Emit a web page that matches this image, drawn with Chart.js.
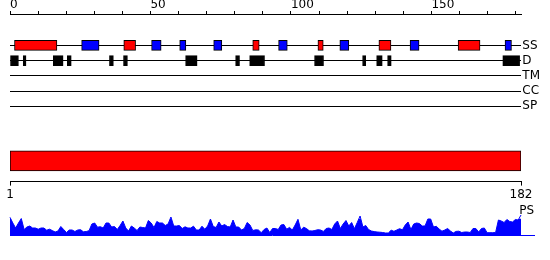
<!DOCTYPE html>
<html>
<head>
<meta charset="utf-8">
<script src="https://cdn.jsdelivr.net/npm/chart.js@4"></script>
<style>
  body { margin: 0; background: #fff; }
  canvas { position: absolute; left: 0; }
</style>
</head>
<body>
<canvas id="tracks" width="550" height="123" style="top:-1px"></canvas>
<canvas id="domain" width="550" height="64" style="top:140px"></canvas>
<canvas id="ps" width="550" height="36" style="top:204px"></canvas>
<script>
// feature tracks (top)
var tracks = ['SS', 'D', 'TM', 'CC', 'SP']
var topTicks = [0, 10, 20, 30, 40, 50, 60, 70, 80, 90, 100, 110, 120, 130, 140, 150, 160, 170, 180]
var topLabels = [0, 50, 100, 150]
var helix = [[1.6, 16.7], [40.5, 44.7], [86.4, 88.7], [109.6, 111.5], [131.3, 135.6], [159.5, 167.3]]
var strand = [[25.5, 31.7], [50.4, 53.8], [60.4, 62.6], [72.5, 75.4], [95.6, 98.7], [117.4, 120.6], [142.4, 145.6], [176.2, 178.5]]
var disorder = [[0, 3], [4.7, 5.7], [15.4, 18.9], [20.4, 21.8], [35.4, 36.8], [40.4, 41.8], [62.5, 66.6], [80.3, 81.7],
                [85.3, 90.6], [108.4, 111.6], [125.5, 126.6], [130.5, 132.5], [134.4, 135.7], [175.4, 181.4]]

// domain bar + sequence axis
var seqStart = 1
var seqEnd = 182
var domains = [[1, 182]]

// PS profile, one value per residue
var psScore = [17.7, 12, 7, 12, 16.5, 5.5, 8, 9, 7, 7, 5.8, 7, 7, 4.8, 5.8, 4.4, 3, 4, 8.5, 5.5,
  2.5, 5, 5, 3.5, 5, 5.3, 3.2, 3.5, 4.3, 11, 12, 7.8, 8.3, 7, 12, 12, 8, 8.5, 5.5, 9.5,
  14, 7, 4, 9, 7, 4.5, 8, 7.5, 7, 14.5, 12, 7.5, 13.5, 12, 12, 9.5, 11, 18, 9, 9,
  9.5, 6.5, 8.2, 7, 7, 8.8, 5, 5, 8.8, 5.8, 9, 16, 8.5, 7.5, 13, 9, 10.5, 8.5, 8, 15,
  8, 8, 5, 6.5, 12.5, 10, 4.5, 5.2, 5, 2.3, 5.5, 7, 2.5, 6.5, 6.5, 5.5, 10, 10.5, 5.8, 7.6,
  5, 10, 15.7, 5, 7.8, 6.5, 4.2, 4, 4.5, 5.3, 5, 3.6, 6.5, 7, 5.5, 11, 14, 6.5, 11, 14.5,
  9, 12.5, 6.3, 12.5, 19, 8, 9.5, 5.5, 4, 3.4, 3, 2.8, 2.5, 2, 2, 4.8, 3.7, 5, 6.3, 5.2,
  10, 13, 5.5, 11, 12, 11.5, 9, 9, 16, 16, 8, 8.7, 6, 3.8, 5, 6.5, 4, 2, 3.6, 3.8,
  2.5, 3, 3, 2.5, 6.5, 6.5, 3, 6.5, 7, 2.3, 2.3, 2.3, 2.5, 15, 14, 12.5, 15.5, 13.5, 13, 15.5,
  15, 20]

var font = { family: 'DejaVu Sans', size: 12 }

function boxes(list, row) {
    return list.map(function (r) { return { x: r, y: row } })
}

new Chart(document.getElementById('tracks'), {
    type: 'bar',
    data: {
        datasets: [
            { data: boxes(helix, 0), backgroundColor: '#ff0000', borderColor: '#000', borderWidth: 1, borderSkipped: false, barThickness: 10 },
            { data: boxes(strand, 0), backgroundColor: '#0000ff', borderColor: '#000', borderWidth: 1, borderSkipped: false, barThickness: 10 },
            { data: boxes(disorder, 1), backgroundColor: '#000', borderColor: '#000', borderWidth: 1, borderSkipped: false, barThickness: 10 }
        ]
    },
    options: {
        responsive: false,
        animation: false,
        indexAxis: 'y',
        layout: { padding: { left: 10, right: 9, top: 0, bottom: 0 } },
        plugins: { legend: { display: false }, tooltip: { enabled: false } },
        datasets: { bar: { grouped: false } },
        scales: {
            x: {
                type: 'linear', position: 'top', min: 0, max: 182,
                afterBuildTicks: function (scale) { scale.ticks = topTicks.map(function (v) { return { value: v } }) },
                ticks: {
                    color: '#000', font: { family: 'DejaVu Sans', size: 12, lineHeight: 1 }, padding: 0, align: 'start', autoSkip: false, maxRotation: 0,
                    callback: function (v) { return topLabels.indexOf(v) >= 0 ? String(v) : '' }
                },
                grid: { drawOnChartArea: false, tickLength: 3, color: '#000' },
                border: { color: '#000' }
            },
            y: {
                type: 'linear', position: 'right', reverse: true, offset: false, min: -31 / 15, max: 4.5,
                afterBuildTicks: function (scale) { scale.ticks = tracks.map(function (t, i) { return { value: i } }) },
                ticks: { color: '#000', font: font, padding: 1, callback: function (v) { return tracks[v] } },
                grid: { color: '#000', drawTicks: false, offset: false },
                border: { display: false }
            }
        }
    }
})

new Chart(document.getElementById('domain'), {
    type: 'bar',
    data: {
        datasets: [
            { data: domains.map(function (r) { return { x: r, y: 0.5 } }), backgroundColor: '#ff0000', borderColor: '#000', borderWidth: 1, borderSkipped: false, barThickness: 20 }
        ]
    },
    options: {
        responsive: false,
        animation: false,
        indexAxis: 'y',
        layout: { padding: { left: 10, right: 29, top: 0, bottom: 0 } },
        plugins: { legend: { display: false }, tooltip: { enabled: false } },
        scales: {
            x: {
                type: 'linear', position: 'bottom', min: seqStart, max: seqEnd,
                afterBuildTicks: function (scale) { scale.ticks = [{ value: seqStart }, { value: seqEnd }] },
                ticks: { color: '#000', font: font, padding: 2, autoSkip: false, maxRotation: 0 },
                grid: { drawOnChartArea: false, tickLength: 4, color: '#000' },
                border: { color: '#000' }
            },
            y: { type: 'linear', min: 0, max: 1, offset: false, display: false }
        }
    }
})

var residues = psScore.map(function (v, i) { return seqStart + i })

new Chart(document.getElementById('ps'), {
    type: 'line',
    data: {
        datasets: [{
            data: psScore.map(function (v, i) { return { x: residues[i], y: v } }),
            borderColor: '#0000ff', backgroundColor: '#0000ff', borderWidth: 1,
            pointRadius: 0, fill: 'origin', tension: 0, clip: false
        }]
    },
    options: {
        responsive: false,
        animation: false,
        layout: { padding: { left: 10, right: 16, top: 0, bottom: 5 } },
        plugins: {
            legend: { display: false },
            tooltip: { enabled: false },
            title: { display: true, text: 'PS', align: 'end', color: '#000', font: { family: 'DejaVu Sans', size: 12, weight: 'normal' }, padding: 0 }
        },
        scales: {
            x: {
                type: 'linear', min: seqStart, max: 186.6,
                ticks: { display: false },
                grid: { drawOnChartArea: false, drawTicks: false },
                border: { color: '#0000ff' }
            },
            y: { type: 'linear', min: 0, max: 16.6, display: false }
        }
    }
})
</script>
</body>
</html>
